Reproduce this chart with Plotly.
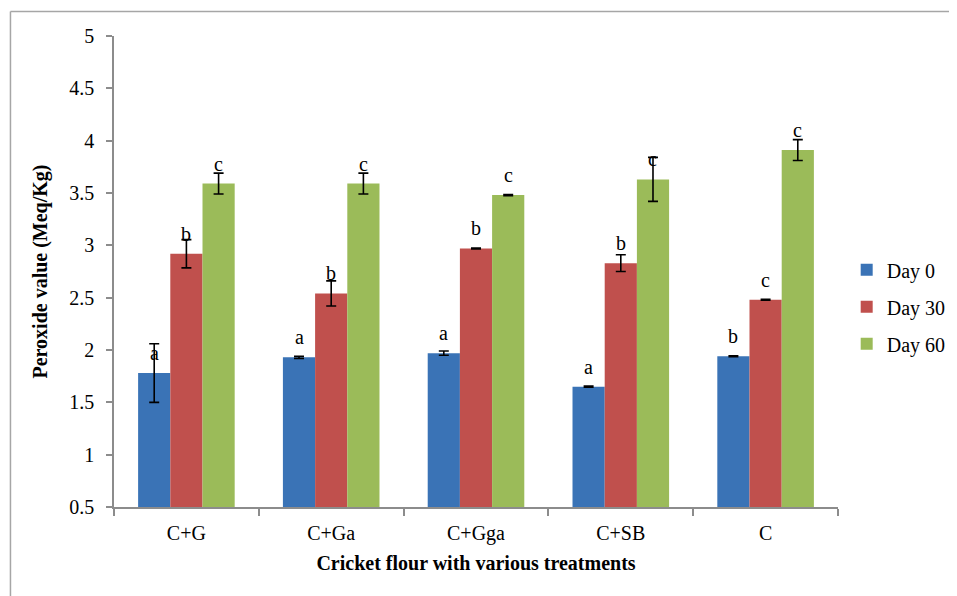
import plotly.graph_objects as go

categories = ["C+G", "C+Ga", "C+Gga", "C+SB", "C"]
series_names = ["Day 0", "Day 30", "Day 60"]
day0 = [1.78, 1.93, 1.97, 1.65, 1.94]
day30 = [2.92, 2.54, 2.97, 2.83, 2.48]
day60 = [3.59, 3.59, 3.48, 3.63, 3.91]
err0 = [0.28, 0.01, 0.02, 0.005, 0.005]
err30 = [0.135, 0.12, 0.005, 0.08, 0.005]
err60 = [0.10, 0.10, 0.005, 0.21, 0.10]
letters0 = ["a", "a", "a", "a", "b"]
letters30 = ["b", "b", "b", "b", "c"]
letters60 = ["c", "c", "c", "c", "c"]
colors = ["#3A73B6", "#C0504D", "#9BBB59"]

values = [day0, day30, day60]
errors = [err0, err30, err60]
letters = [letters0, letters30, letters60]

FONT = "Liberation Serif"
BARGAP = 0.333

fig = go.Figure()
for name, vals, errs, col in zip(series_names, values, errors, colors):
    fig.add_trace(go.Bar(
        name=name, legendgroup=name, x=categories, y=vals, marker=dict(color=col, line=dict(width=0)),
        error_y=dict(type="data", array=errs, visible=True, color="black", thickness=1.6, width=5),
    ))

# letter annotations above bars
nser = len(series_names)
bw = (1 - BARGAP) / nser
for j, (vals, labs) in enumerate(zip(values, letters)):
    for i, (v, lab) in enumerate(zip(vals, labs)):
        fig.add_annotation(x=i + (j - (nser - 1) / 2) * bw, y=v, text=lab, showarrow=False,
                           yshift=20, font=dict(family=FONT, size=20, color="black"))

# outer frame (partially visible)
frame = dict(color="#A6A6A6", width=1.5)
fig.add_shape(type="line", xref="paper", yref="paper", x0=-0.143, x1=-0.143, y0=-0.3, y1=1.052, line=frame)
fig.add_shape(type="line", xref="paper", yref="paper", x0=-0.143, x1=1.3, y0=1.052, y1=1.052, line=frame)

fig.update_layout(
    width=957, height=596,
    margin=dict(l=106, r=127, t=28, b=97, autoexpand=False),
    paper_bgcolor="white", plot_bgcolor="white",
    barmode="group", bargap=BARGAP, bargroupgap=0,
    font=dict(family=FONT, size=20, color="black"),
    legend=dict(x=1.012, y=0.545, xanchor="left", yanchor="top", itemwidth=30,
                traceorder="grouped",
                font=dict(family=FONT, size=20), tracegroupgap=8),
    xaxis=dict(
        type="category", showline=True, linecolor="#8C8C8C", linewidth=1.5, automargin=False,
        ticks="outside", tickson="boundaries", ticklen=7, tickcolor="#8C8C8C", tickwidth=1.5,
        tickfont=dict(family=FONT, size=20), ticklabelstandoff=7,
        title=dict(text="<b>Cricket flour with various treatments</b>", font=dict(family=FONT, size=20), standoff=12),
    ),
    yaxis=dict(
        range=[0.5, 5], dtick=0.5, tick0=0.5, showgrid=False, zeroline=False, automargin=False,
        showline=True, linecolor="#8C8C8C", linewidth=1.5,
        ticks="outside", ticklen=6, tickcolor="#8C8C8C", tickwidth=1.5,
        tickfont=dict(family=FONT, size=20), ticklabelstandoff=8,
        title=dict(text="<b>Peroxide value (Meq/Kg)</b>", font=dict(family=FONT, size=20), standoff=16),
    ),
)

fig.write_html("out.html")
